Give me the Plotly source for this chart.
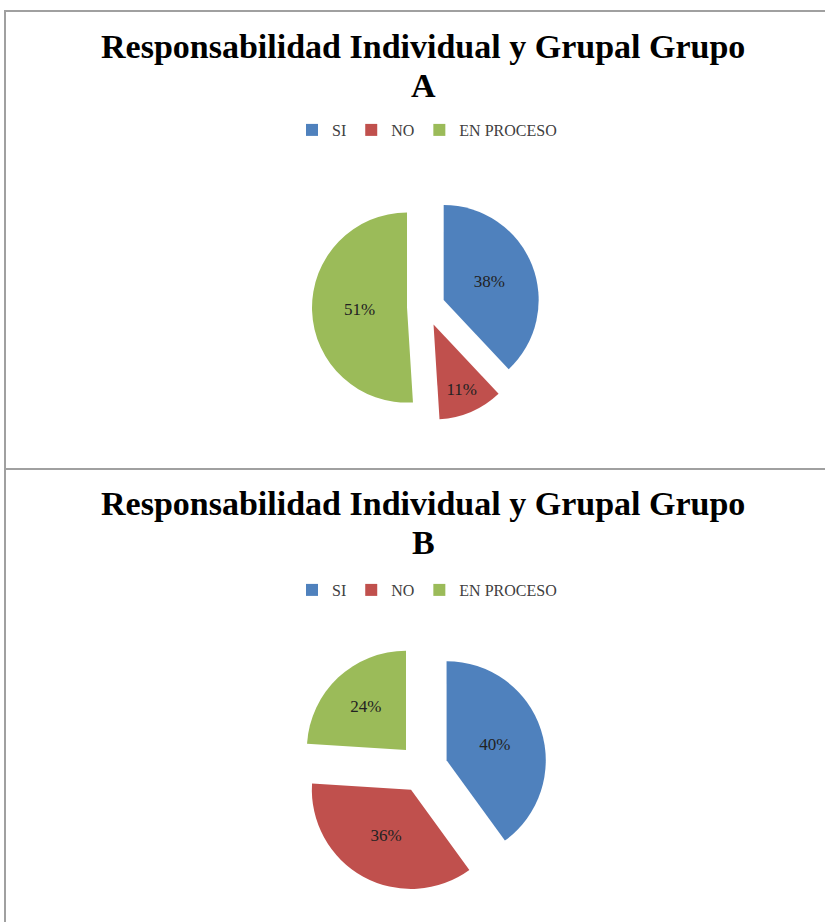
import plotly.graph_objects as go

# ---- data ----
labels = ["SI", "NO", "EN PROCESO"]
values_a = [38, 11, 51]
values_b = [40, 36, 24]
title_a = ["Responsabilidad Individual y Grupal Grupo", "A"]
title_b = ["Responsabilidad Individual y Grupal Grupo", "B"]
colors = ["#4F81BD", "#C0504D", "#9BBB59"]

W, H = 825, 922


def fx(px):
    return px / W


def fy(py):
    return 1 - py / H


fig = go.Figure()

# pie A
fig.add_trace(go.Pie(
    labels=labels, values=values_a, sort=False, direction="clockwise", rotation=0,
    marker=dict(colors=colors, line=dict(width=0)),
    pull=[0.2, 0.2, 0.2],
    textinfo="percent", textposition="inside", insidetextorientation="horizontal",
    textfont=dict(family="Liberation Serif", size=17, color="#222222"),
    domain=dict(x=[fx(426 - 114), fx(426 + 114)], y=[fy(307 + 114), fy(307 - 114)]),
    legend="legend", legendgroup="a", hoverinfo="label+percent",
))

# pie B
fig.add_trace(go.Pie(
    labels=labels, values=values_b, sort=False, direction="clockwise", rotation=0,
    marker=dict(colors=colors, line=dict(width=0)),
    pull=[0.25, 0.25, 0.25],
    textinfo="percent", textposition="inside", insidetextorientation="horizontal",
    textfont=dict(family="Liberation Serif", size=17, color="#222222"),
    domain=dict(x=[fx(423 - 124), fx(423 + 124)], y=[fy(768 + 124), fy(768 - 124)]),
    legend="legend2", legendgroup="b", hoverinfo="label+percent",
))

title_font = dict(family="Liberation Serif", size=34, color="#000000")
annotations = []
for lines, ys in ((title_a, (46, 85)), (title_b, (504, 542))):
    for txt, yy in zip(lines, ys):
        annotations.append(dict(
            text="<b>%s</b>" % txt, x=fx(423), y=fy(yy), xref="paper", yref="paper",
            xanchor="center", yanchor="middle", showarrow=False, font=title_font,
        ))

legend_common = dict(
    orientation="h", xanchor="center", yanchor="middle", traceorder="normal",
    font=dict(family="Liberation Serif", size=16, color="#404040"),
    itemwidth=30, bgcolor="rgba(0,0,0,0)",
)

fig.update_layout(
    width=W, height=H,
    margin=dict(l=0, r=0, t=0, b=0),
    paper_bgcolor="white", plot_bgcolor="white",
    annotations=annotations,
    legend=dict(x=fx(427), y=fy(130), **legend_common),
    legend2=dict(x=fx(427), y=fy(590), **legend_common),
    shapes=[
        dict(type="rect", xref="paper", yref="paper", x0=fx(5), x1=1.02, y0=fy(469), y1=fy(11),
             line=dict(color="#a0a0a0", width=2), layer="below"),
        dict(type="rect", xref="paper", yref="paper", x0=fx(5), x1=1.02, y0=-0.02, y1=fy(469),
             line=dict(color="#a0a0a0", width=2), layer="below"),
    ],
)

fig.write_html("out.html", config={"displayModeBar": False},
               post_script="document.body.style.margin='0';document.body.style.overflow='hidden';")
